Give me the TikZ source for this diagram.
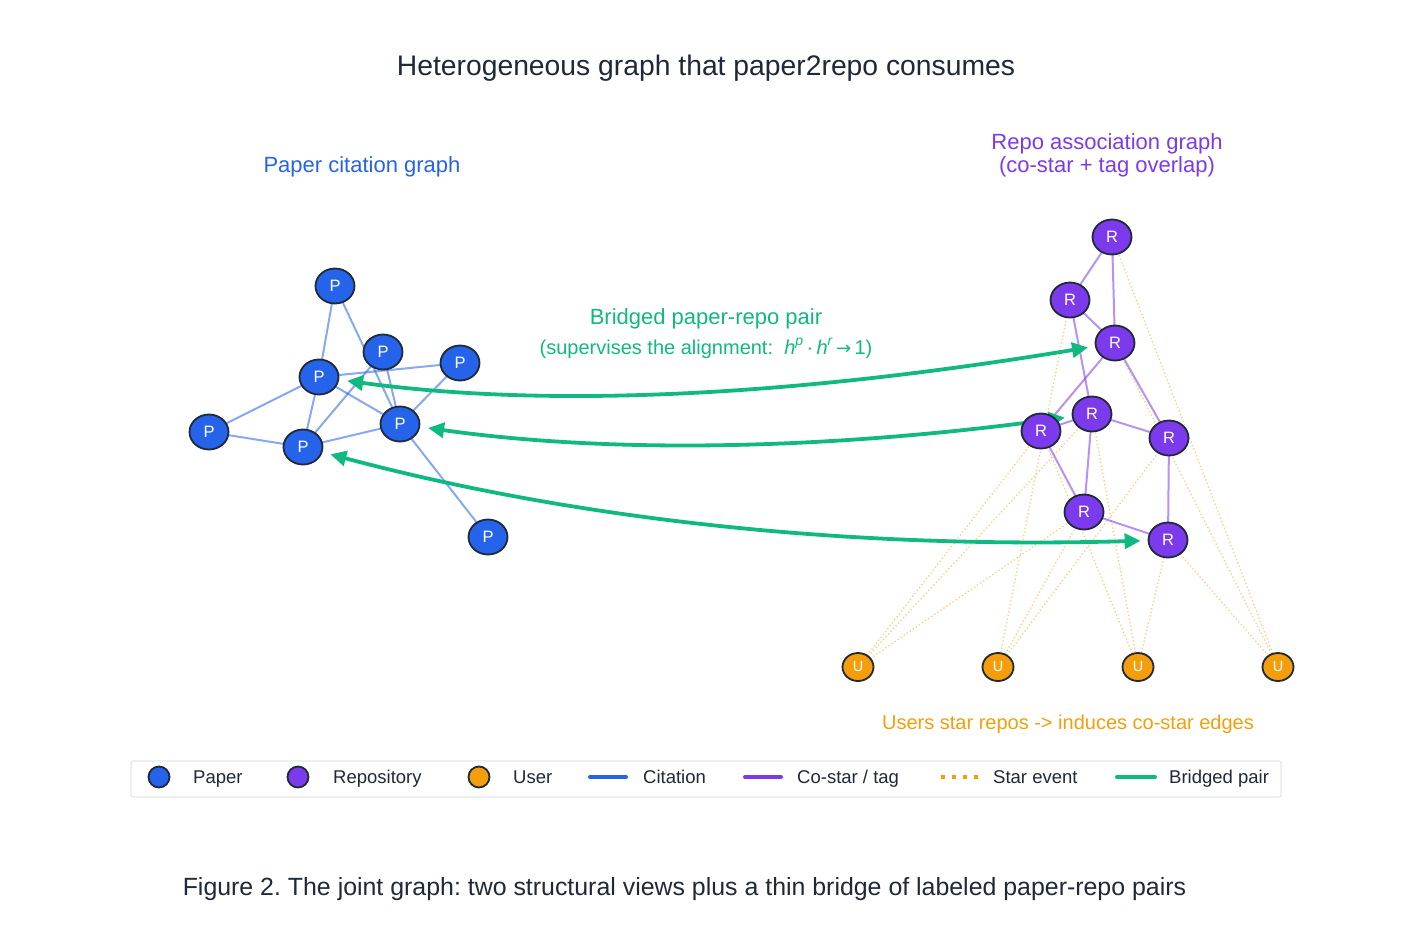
\documentclass[tikz,border=0pt]{standalone}
\usepackage{fontspec}
\setmainfont{Liberation Sans}
\newfontfamily\djv{DejaVu Sans}
\usetikzlibrary{shapes.geometric,arrows.meta}
\definecolor{cblue}{HTML}{2563EB}
\definecolor{cpurp}{HTML}{7C3AED}
\definecolor{corange}{HTML}{F59E0B}
\definecolor{cgreen}{HTML}{10B981}
\definecolor{cdark}{HTML}{1F2937}
\definecolor{cline}{HTML}{E5E7EB}
\pgfdeclarelayer{back}
\pgfdeclarelayer{bg}
\pgfsetlayers{back,bg,main}
\newcommand\fsz[1]{\fontsize{#1}{#1}\selectfont}
\frenchspacing
\begin{document}
\begin{tikzpicture}[x=1pt,y=-1pt,
  gnode/.style={ellipse, draw=cdark, line width=1.8pt, inner sep=0pt, minimum width=39pt, minimum height=35pt, text=white, font=\fsz{16.5}},
  pnode/.style={gnode, fill=cblue},
  rnode/.style={gnode, fill=cpurp},
  unode/.style={gnode, fill=corange, minimum width=31pt, minimum height=28pt, font=\fsz{14.5}},
  cite/.style={draw=cblue, draw opacity=0.55, line width=2pt},
  costar/.style={draw=cpurp, draw opacity=0.55, line width=2pt},
  starev/.style={draw=corange, draw opacity=0.5, line width=1.3pt, dash pattern=on 1.3pt off 2.4pt},
  btip/.tip={Triangle[length=16pt,width=15pt]},
  bridge/.style={draw=cgreen, line width=3.8pt, btip-btip, shorten <=8pt, shorten >=7pt},
  lbl/.style={inner sep=0pt, anchor=base},
  legtext/.style={inner sep=0pt, anchor=base west, font=\fsz{18.5}, text=cdark},
  legmark/.style={circle, draw=cdark, line width=1.8pt, minimum size=21pt, inner sep=0pt},
  legline/.style={line width=4pt, line cap=round},
]
\useasboundingbox (0,0) rectangle (1411,938);
\begin{pgfonlayer}{back}
\fill[white] (0,0) rectangle (1411,938);
\end{pgfonlayer}

% titles
\node[lbl, font=\fsz{28.3}, text=cdark] (title) at (706,75.5) {Heterogeneous graph that paper2repo consumes};
\node[lbl, font=\fsz{22}, text=cblue] (ptitle) at (362,172) {Paper citation graph};
\node[lbl, font=\fsz{22}, text=cpurp] (rtitle1) at (1107,149.5) {Repo association graph};
\node[lbl, font=\fsz{22}, text=cpurp] (rtitle2) at (1107,172.5) {(co-star + tag overlap)};
\node[lbl, font=\fsz{22}, text=cgreen] (btitle1) at (706,324) {Bridged paper-repo pair};
\node[lbl, font=\fsz{20}, text=cgreen] (btitle2) at (706,354) {(supervises the alignment:\ \ \textit{h}\raisebox{0.45em}{\fsz{14}\textit{p}}\,·\,\textit{h}\raisebox{0.45em}{\fsz{14}\textit{r}}\,{\djv\fsz{18}→}\,1)};
\node[lbl, font=\fsz{20}, text=corange] (utitle) at (1068,729) {Users star repos -> induces co-star edges};
\node[lbl, font=\fsz{24.9}, text=cdark] (caption) at (684.5,895) {Figure 2. The joint graph: two structural views plus a thin bridge of labeled paper-repo pairs};

% paper nodes
\node[pnode] (P1) at (335,286) {P};
\node[pnode] (P2) at (383,352) {P};
\node[pnode] (P3) at (460,363) {P};
\node[pnode] (P4) at (319,377) {P};
\node[pnode] (P5) at (209,432) {P};
\node[pnode] (P6) at (400,424) {P};
\node[pnode] (P7) at (303,447) {P};
\node[pnode] (P8) at (488,537) {P};
% repo nodes
\node[rnode] (R1) at (1112,237) {R};
\node[rnode] (R2) at (1070,300) {R};
\node[rnode] (R3) at (1115,343) {R};
\node[rnode] (R4) at (1092,414) {R};
\node[rnode] (R5) at (1041,431) {R};
\node[rnode] (R6) at (1169,438) {R};
\node[rnode] (R7) at (1084,512) {R};
\node[rnode] (R8) at (1168,540) {R};
% user nodes
\node[unode] (U1) at (858,667) {U};
\node[unode] (U2) at (998,667) {U};
\node[unode] (U3) at (1138,667) {U};
\node[unode] (U4) at (1278,667) {U};

\begin{pgfonlayer}{bg}
% star events
\foreach \a/\b in {U1/R5,U1/R4,U1/R7,U2/R2,U2/R7,U2/R6,U3/R5,U3/R4,U3/R8,U4/R8,U4/R1,U4/R3}
  \draw[starev] (\a.center) -- (\b.center);
% co-star edges
\foreach \a/\b in {R1/R2,R1/R3,R2/R3,R2/R4,R3/R5,R3/R6,R4/R5,R4/R6,R4/R7,R5/R7,R6/R8,R7/R8}
  \draw[costar] (\a.center) -- (\b.center);
% citation edges
\foreach \a/\b in {P1/P4,P1/P6,P4/P3,P4/P5,P4/P7,P4/P6,P2/P7,P2/P6,P3/P6,P5/P7,P7/P6,P6/P8}
  \draw[cite] (\a.center) -- (\b.center);
% bridges
\draw[bridge] (P4) .. controls (540,407) and (776,399) .. (R3);
\draw[bridge] (P6) .. controls (605,453) and (817,451) .. (R4);
\draw[bridge] (P7) .. controls (577,520) and (847,549) .. (R8);
\end{pgfonlayer}

% legend
\draw[cline, line width=1.2pt, rounded corners=2pt] (131,761) rectangle (1281,797);
\node[legmark, fill=cblue] (mP) at (159,777) {};
\node[legtext] (tP) at (193,783.5) {Paper};
\node[legmark, fill=cpurp] (mR) at (298,777) {};
\node[legtext] (tR) at (333,783.5) {Repository};
\node[legmark, fill=corange] (mU) at (479,777) {};
\node[legtext] (tU) at (513,783.5) {User};
\coordinate (c1a) at (590,777); \coordinate (c1b) at (626,777);
\draw[legline, cblue] (c1a) -- (c1b);
\node[legtext] (tC) at (643,783.5) {Citation};
\coordinate (c2a) at (745,777); \coordinate (c2b) at (781,777);
\draw[legline, cpurp] (c2a) -- (c2b);
\node[legtext] (tS) at (797,783.5) {Co-star / tag};
\coordinate (c3a) at (941,777); \coordinate (c3b) at (978,777);
\draw[corange, line width=4pt, dash pattern=on 4pt off 7pt] (c3a) -- (c3b);
\node[legtext] (tE) at (993,783.5) {Star event};
\coordinate (c4a) at (1117,777); \coordinate (c4b) at (1155,777);
\draw[legline, cgreen] (c4a) -- (c4b);
\node[legtext] (tB) at (1169,783.5) {Bridged pair};
\end{tikzpicture}
\end{document}
